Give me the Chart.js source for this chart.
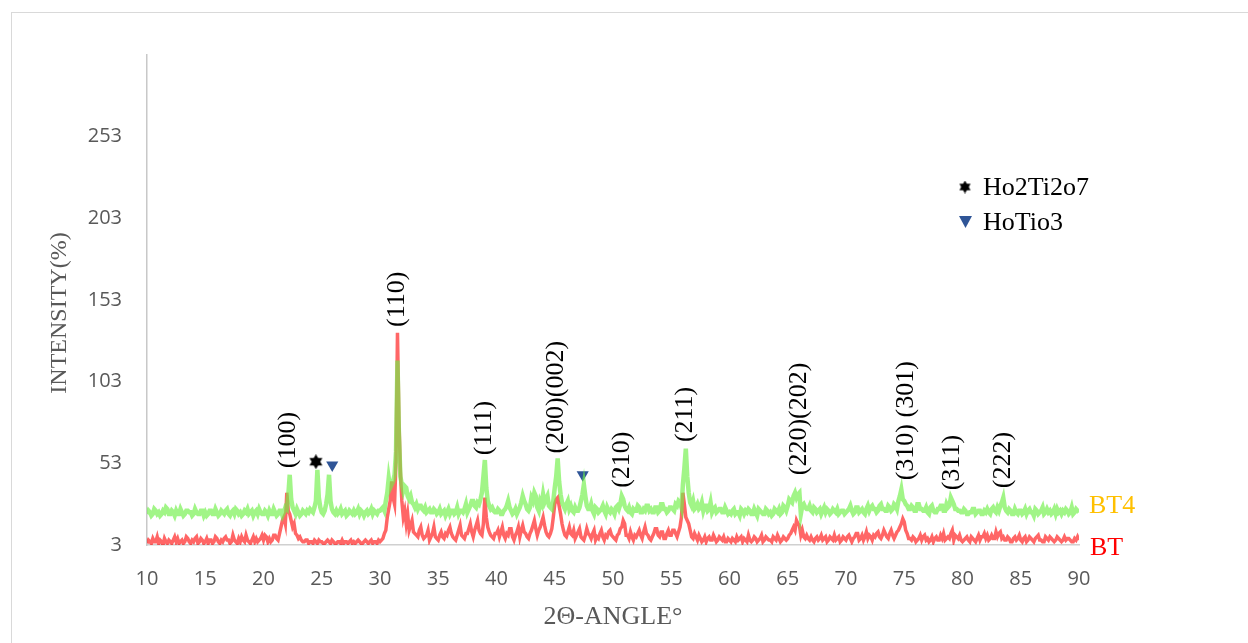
<!DOCTYPE html>
<html>
<head>
<meta charset="utf-8">
<script src="https://cdn.jsdelivr.net/npm/chart.js@4"></script>
<style>
  html, body { margin: 0; padding: 0; background: #fff; }
</style>
</head>
<body>
<canvas id="xrd" width="1248" height="643"></canvas>
<script>
// 2theta sampling of the scans
const angleStart = 10;
const angleStep = 0.125;

// BT4 scan, one row = 5 degrees (40 points)
const bt4 = [
  22,24,23,21,22,25,24,22,23,21, 22,24,23,26,25,22,22,24,23,21, 24,22,22,25,23,21,22,24,24,23, 23,21,22,25,23,22,22,24,24,21,
  23,21,22,24,24,22,22,25,23,21, 22,24,23,22,24,25,22,21,23,24, 22,25,24,22,23,21,22,24,23,25, 22,23,24,21,23,24,22,25,23,22,
  22,24,23,21,24,22,22,25,23,21, 22,24,24,21,23,26,25,33,46,31, 26,24,22,25,23,21,22,24,23,22, 24,23,25,24,23,26,30,49,32,26,
  23,22,24,28,34,46,30,25,23,22, 24,22,23,25,22,23,24,21,22,24, 23,22,24,22,23,25,22,24,23,21, 23,24,22,23,25,22,24,23,22,24,
  24,25,26,24,30,35,44,38,40,42, 46,60,116,70,45,40,36,39,38,33, 31,33,29,28,26,28,25,27,27,25, 24,26,23,24,25,23,23,25,24,22,
  23,25,22,23,24,21,23,25,22,24, 24,22,23,26,22,24,24,23,25,28, 23,25,27,30,30,27,26,29,28,31, 35,45,55,38,30,27,25,26,24,23,
  23,25,24,22,22,24,25,27,30,26, 24,22,23,25,22,24,26,29,33,30, 28,25,24,26,32,30,35,33,26,24, 30,28,34,29,31,33,27,26,25,30,
  38,45,56,42,34,29,27,25,28,30, 25,27,24,23,26,24,24,26,30,34, 40,33,27,25,25,28,24,22,26,25, 23,24,25,27,24,22,26,24,23,25,
  24,22,26,27,25,28,33,31,27,25, 24,26,23,22,25,24,24,27,26,23, 23,25,24,27,27,24,25,23,23,26, 26,23,24,28,28,25,25,23,24,26,
  26,25,24,28,27,30,29,26,40,50, 62,45,35,29,27,30,25,26,28,25, 26,29,24,27,27,24,25,29,23,25, 26,23,24,25,25,23,23,26,24,22,
  23,22,24,25,22,23,23,21,25,24, 22,24,23,25,24,22,22,25,23,21, 25,24,23,22,22,25,24,22,23,21, 22,25,24,23,25,22,23,27,26,24,
  27,31,30,29,33,35,32,34,35,22, 27,28,26,25,25,27,24,23,26,25, 23,24,25,22,24,26,23,25,24,22, 23,25,24,23,25,22,23,24,24,22,
  23,24,25,27,24,22,23,26,26,23, 24,25,23,22,25,27,24,26,27,25, 25,23,24,27,28,25,25,24,24,27, 26,24,25,28,27,25,30,33,37,31,
  30,28,27,25,25,27,26,24,24,28, 28,25,25,24,24,26,23,22,26,27, 24,23,23,25,25,27,27,24,24,28, 26,27,32,30,28,25,25,24,24,23,
  23,25,24,22,22,23,23,25,25,22, 23,24,24,22,22,24,23,25,23,22, 25,26,24,23,26,24,27,29,32,26, 24,23,25,24,22,22,25,23,22,24,
  24,22,23,25,22,24,25,23,23,21, 25,24,22,23,24,26,22,23,25,23, 24,22,23,25,22,25,23,24,22,24, 23,25,24,22,23,26,22,23,25,24,
  23
];

// BT scan
const bt = [
  4,6,5,4,7,5,5,8,4,6, 5,3,7,5,4,6,5,4,6,8, 5,7,4,5,6,4,5,8,7,5, 4,6,5,7,8,4,5,7,6,4,
  5,7,4,6,6,4,5,8,7,5, 4,6,5,7,8,6,6,4,5,9, 6,5,4,7,5,8,6,5,9,6, 5,4,6,8,5,7,5,6,7,9,
  6,9,8,5,7,5,6,9,9,7, 6,10,14,18,20,16,35,24,22,18, 14,16,10,9,7,8,6,5,5,6, 6,4,5,5,4,6,5,4,6,5,
  5,4,4,5,6,5,4,6,5,4, 4,5,5,4,6,4,5,5,4,5, 6,4,5,4,5,6,5,4,4,5, 6,5,4,5,6,4,5,5,4,6,
  5,6,7,10,12,20,25,30,42,32, 28,55,133,80,48,30,20,24,16,22, 12,15,18,11,10,9,8,12,14,9, 7,8,9,12,6,8,10,14,8,7,
  6,9,11,8,7,10,9,12,14,10, 8,7,6,9,12,15,9,8,7,10, 10,13,16,11,8,12,15,18,12,10, 9,16,32,20,14,11,9,8,7,10,
  10,12,8,11,14,9,7,10,9,13, 13,8,6,9,11,14,8,12,15,11, 10,8,7,10,12,15,18,13,9,12, 14,17,20,15,11,9,8,10,13,20,
  28,31,32,27,22,16,12,9,8,11, 14,10,9,12,7,9,11,13,8,7, 6,9,13,10,9,7,10,12,6,8, 7,10,12,8,6,9,8,11,12,9,
  8,7,6,9,10,13,14,18,16,9, 9,7,11,8,6,9,8,10,12,9, 7,11,14,10,9,7,6,8,10,13, 13,9,8,11,11,7,7,10,12,9,
  9,12,12,10,8,11,14,20,35,28, 20,18,16,12,8,7,10,8,6,9, 7,5,6,8,5,7,8,6,6,9, 7,5,6,8,7,6,8,5,5,7,
  6,5,7,6,5,8,6,7,8,5, 7,6,5,9,6,5,6,8,7,5, 6,7,9,5,6,8,7,6,6,5, 8,7,6,9,7,5,6,8,7,6,
  7,9,10,12,14,12,18,16,15,9, 12,8,7,9,7,6,8,6,5,7, 8,6,7,9,6,7,8,5,6,8, 7,6,9,6,7,8,5,6,8,7,
  6,8,9,7,5,7,8,10,10,6, 7,9,6,8,11,7,9,8,6,9, 8,10,11,8,7,9,12,10,8,7, 10,12,9,7,9,11,12,14,16,19,
  17,12,10,7,7,6,8,7,5,6, 7,9,6,8,9,6,7,5,6,8, 5,7,8,6,6,9,7,10,6,7, 8,7,10,12,6,9,8,7,9,6,
  5,6,7,8,6,5,8,7,6,5, 7,9,6,8,8,10,7,9,6,7, 9,7,7,11,8,10,11,7,8,6, 6,8,7,5,5,7,8,6,7,9,
  6,5,7,8,5,6,8,7,6,5, 7,8,9,6,6,5,5,8,7,6, 8,7,6,5,6,8,7,6,5,6, 8,6,7,7,6,5,5,7,6,8,
  6
];

const yTicks = [3, 53, 103, 153, 203, 253];

// phase markers
const starAngles = [24.5];
const starLevels = [54];
const triAngles = [25.9, 47.4];
const triLevels = [52, 46];

// hkl labels (angle, intensity where the text starts)
const peakNames = ['(100)', '(110)', '(111)', '(200)(002)', '(210)', '(211)', '(220)(202)', '(310) (301)', '(311)', '(222)'];
const peakAngles = [22.1, 31.5, 38.9, 45.1, 50.8, 56.2, 66.0, 75.2, 79.1, 83.5];
const peakLabelAt = [50, 136.5, 58, 59, 38, 66, 45.7, 42.6, 36.5, 37.8];

const serif = '"Liberation Serif", "Times New Roman", serif';
const sans = '"Open Sans", Calibri, sans-serif';

const angles = bt4.map((_, i) => angleStart + i * angleStep);
const toXY = (ys) => ys.map((v, i) => ({ x: angles[i], y: v }));
const pts = (xs, ys) => xs.map((v, i) => ({ x: v, y: ys[i] }));

function hexagram(size, color) {
  const cv = document.createElement('canvas');
  cv.width = size;
  cv.height = size;
  const g = cv.getContext('2d');
  const r = size / 2;
  g.fillStyle = color;
  for (const off of [-Math.PI / 2, Math.PI / 2]) {
    g.beginPath();
    for (let k = 0; k < 3; k++) {
      const a = off + k * 2 * Math.PI / 3;
      g.lineTo(r + r * Math.cos(a), r + r * Math.sin(a));
    }
    g.closePath();
    g.fill();
  }
  return cv;
}

const starBig = hexagram(15, '#000');
const starSmall = hexagram(13, '#000');
const triColor = '#2F5597';

const annotate = {
  id: 'annotate',
  beforeDraw(chart) {
    const c = chart.ctx;
    c.save();
    c.strokeStyle = '#D9D9D9';
    c.lineWidth = 1;
    c.strokeRect(11.5, 12.5, 1260, 660);
    c.restore();
  },
  afterDraw(chart) {
    const c = chart.ctx;
    const xs = chart.scales.x;
    const ys = chart.scales.y;
    c.save();
    c.textBaseline = 'middle';

    // y axis title, a bit below the middle of the axis like the original
    c.save();
    c.font = '24px ' + serif;
    c.fillStyle = '#595959';
    c.textAlign = 'center';
    c.translate(60, 313);
    c.rotate(-Math.PI / 2);
    c.fillText('INTENSITY(%)', 0, 0);
    c.restore();

    c.font = '26px ' + serif;
    c.fillStyle = '#000';
    c.textAlign = 'left';
    peakNames.forEach((t, i) => {
      c.save();
      c.translate(xs.getPixelForValue(peakAngles[i]), ys.getPixelForValue(peakLabelAt[i]));
      c.rotate(-Math.PI / 2);
      c.fillText(t, 0, 0);
      c.restore();
    });

    // legend box for the phase markers
    c.drawImage(starSmall, 965 - 6.5, 187 - 6.5);
    c.fillText('Ho2Ti2o7', 983, 188);
    c.fillStyle = triColor;
    c.beginPath();
    c.moveTo(959, 216);
    c.lineTo(972, 216);
    c.lineTo(965.5, 228);
    c.closePath();
    c.fill();
    c.fillStyle = '#000';
    c.fillText('HoTio3', 983, 223);

    // series names at the end of the scans
    c.fillStyle = '#FFC000';
    c.fillText('BT4', 1089, 506);
    c.fillStyle = '#FF0000';
    c.fillText('BT', 1090, 548);
    c.restore();
  }
};

new Chart(document.getElementById('xrd'), {
  type: 'scatter',
  data: {
    datasets: [
      {
        label: 'BT4',
        data: toXY(bt4),
        showLine: true,
        borderColor: 'rgba(110,240,70,0.65)',
        borderWidth: 4.5,
        pointRadius: 0,
        tension: 0
      },
      {
        label: 'BT',
        data: toXY(bt),
        showLine: true,
        borderColor: 'rgba(255,0,0,0.6)',
        borderWidth: 3.5,
        pointRadius: 0,
        tension: 0
      },
      {
        label: 'Ho2Ti2o7',
        data: pts(starAngles, starLevels),
        pointStyle: starBig,
        pointRadius: 7
      },
      {
        label: 'HoTio3',
        data: pts(triAngles, triLevels),
        pointStyle: 'triangle',
        rotation: 180,
        pointRadius: 7,
        backgroundColor: triColor,
        borderColor: triColor,
        borderWidth: 0
      }
    ]
  },
  options: {
    responsive: false,
    animation: false,
    layout: { padding: { left: 0, right: 169, top: 55, bottom: 0 } },
    plugins: {
      legend: { display: false },
      tooltip: { enabled: false }
    },
    scales: {
      x: {
        type: 'linear',
        min: 10,
        max: 90,
        afterFit(s) { s.height = 98; },
        grid: { display: false, drawTicks: false },
        border: { display: true, color: '#D0D0D0', width: 1.5 },
        ticks: { stepSize: 5, padding: 22, color: '#595959', font: { family: sans, size: 20 } },
        title: {
          display: true,
          text: '2\u0398-ANGLE\u00B0',
          color: '#595959',
          font: { family: serif, size: 26 },
          padding: { top: 0, bottom: 10 }
        }
      },
      y: {
        min: 3,
        max: 303,
        afterFit(s) { s.width = 147; },
        afterBuildTicks(s) { s.ticks = yTicks.map(v => ({ value: v })); },
        grid: { display: false, drawTicks: false },
        border: { display: true, color: '#C8C8C8', width: 1.5 },
        ticks: { padding: 25, color: '#595959', font: { family: sans, size: 20 } },
        title: { display: false }
      }
    }
  },
  plugins: [annotate]
});
</script>
</body>
</html>
